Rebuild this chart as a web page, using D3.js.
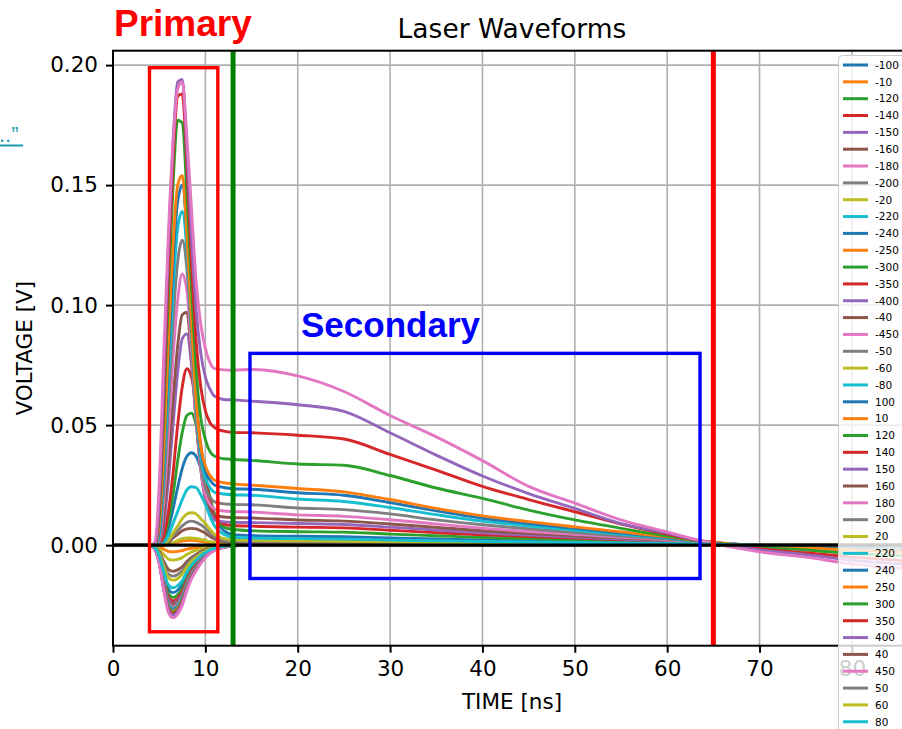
<!DOCTYPE html>
<html><head><meta charset="utf-8">
<script src="https://cdn.jsdelivr.net/npm/d3@7"></script>
<style>body{margin:0;background:#fff;overflow:hidden} svg{display:block}</style>
</head><body><svg id="chart" width="902" height="729"></svg>
<script>
// ---------------- DATA ----------------
const times = [0, 4, 4.5, 5, 5.5, 6, 6.5, 7, 7.5, 8, 8.5, 9, 9.5, 10, 10.5, 11, 12, 13,
               15, 20, 25, 30, 35, 40, 45, 50, 55, 60, 63.5, 70, 75, 80, 86];

const negativeLabels = ["-100","-10","-120","-140","-150","-160","-180","-200","-20","-220",
                        "-240","-250","-300","-350","-400","-40","-450","-50","-60","-80"];
const positiveLabels = ["100","10","120","140","150","160","180","200","20","220",
                        "240","250","300","350","400","40","450","50","60","80"];

const Z15 = [0,0,0,0,0,0,0,0,0,0,0,0,0,0,0];
const negativeTraces = [
  /* -100 */ [0,0,-0.001,-0.005,-0.0124,-0.0184,-0.0198,-0.0188,-0.0164,-0.0124,-0.0092,-0.007,-0.005,-0.0034,-0.0022,-0.0014,-0.0006,-0.0002].concat(Z15),
  /* -10  */ [0,0,-0.0001,-0.0007,-0.0017,-0.0026,-0.0028,-0.0026,-0.0023,-0.0017,-0.0013,-0.001,-0.0007,-0.0005,-0.0003,-0.0002,-0.0001,0].concat(Z15),
  /* -120 */ [0,0,-0.0011,-0.0055,-0.0136,-0.0202,-0.0218,-0.0207,-0.018,-0.0136,-0.0101,-0.0077,-0.0055,-0.0037,-0.0024,-0.0015,-0.0007,-0.0002].concat(Z15),
  /* -140 */ [0,0,-0.0012,-0.0059,-0.0146,-0.0216,-0.0233,-0.0221,-0.0193,-0.0146,-0.0108,-0.0082,-0.0059,-0.004,-0.0026,-0.0016,-0.0007,-0.0002].concat(Z15),
  /* -150 */ [0,0,-0.0012,-0.0061,-0.0152,-0.0225,-0.0243,-0.023,-0.0201,-0.0152,-0.0113,-0.0086,-0.0061,-0.0042,-0.0027,-0.0017,-0.0007,-0.0002].concat(Z15),
  /* -160 */ [0,0,-0.0013,-0.0063,-0.0155,-0.023,-0.0248,-0.0235,-0.0205,-0.0155,-0.0115,-0.0088,-0.0063,-0.0043,-0.0028,-0.0018,-0.0008,-0.0003].concat(Z15),
  /* -180 */ [0,0,-0.0013,-0.0065,-0.0161,-0.0239,-0.0257,-0.0244,-0.0213,-0.0161,-0.012,-0.0091,-0.0065,-0.0044,-0.0029,-0.0018,-0.0008,-0.0003].concat(Z15),
  /* -200 */ [0,0,-0.0013,-0.0066,-0.0164,-0.0244,-0.0262,-0.0249,-0.0217,-0.0164,-0.0122,-0.0093,-0.0066,-0.0045,-0.0029,-0.0019,-0.0008,-0.0003].concat(Z15),
  /* -20  */ [0,0,-0.0003,-0.0016,-0.0039,-0.0058,-0.0062,-0.0059,-0.0052,-0.0039,-0.0029,-0.0022,-0.0016,-0.0011,-0.0007,-0.0004,-0.0002,-0.0001].concat(Z15),
  /* -220 */ [0,0,-0.0014,-0.0068,-0.0167,-0.0248,-0.0267,-0.0254,-0.0221,-0.0167,-0.0124,-0.0095,-0.0068,-0.0046,-0.003,-0.0019,-0.0008,-0.0003].concat(Z15),
  /* -240 */ [0,0,-0.0014,-0.0069,-0.0171,-0.0253,-0.0272,-0.0259,-0.0226,-0.0171,-0.0127,-0.0096,-0.0069,-0.0047,-0.003,-0.0019,-0.0008,-0.0003].concat(Z15),
  /* -250 */ [0,0,-0.0014,-0.007,-0.0174,-0.0258,-0.0277,-0.0263,-0.023,-0.0174,-0.0129,-0.0098,-0.007,-0.0048,-0.0031,-0.002,-0.0008,-0.0003].concat(Z15),
  /* -300 */ [0,0,-0.0014,-0.0071,-0.0177,-0.0262,-0.0282,-0.0268,-0.0234,-0.0177,-0.0131,-0.01,-0.0071,-0.0048,-0.0031,-0.002,-0.0009,-0.0003].concat(Z15),
  /* -350 */ [0,0,-0.0015,-0.0073,-0.018,-0.0267,-0.0287,-0.0273,-0.0238,-0.018,-0.0133,-0.0102,-0.0073,-0.0049,-0.0032,-0.002,-0.0009,-0.0003].concat(Z15),
  /* -400 */ [0,0,-0.0015,-0.0074,-0.0183,-0.0271,-0.0292,-0.0277,-0.0242,-0.0183,-0.0136,-0.0103,-0.0074,-0.005,-0.0032,-0.0021,-0.0009,-0.0003].concat(Z15),
  /* -40  */ [0,0,-0.0006,-0.0028,-0.0068,-0.0101,-0.0109,-0.0103,-0.009,-0.0068,-0.0051,-0.0039,-0.0028,-0.0019,-0.0012,-0.0008,-0.0003,-0.0001].concat(Z15),
  /* -450 */ [0,0,-0.0015,-0.0076,-0.0189,-0.0281,-0.0302,-0.0287,-0.025,-0.0189,-0.014,-0.0107,-0.0076,-0.0052,-0.0034,-0.0021,-0.0009,-0.0003].concat(Z15),
  /* -50  */ [0,0,-0.0007,-0.0033,-0.0081,-0.012,-0.0129,-0.0122,-0.0107,-0.0081,-0.006,-0.0046,-0.0033,-0.0022,-0.0014,-0.0009,-0.0004,-0.0001].concat(Z15),
  /* -60  */ [0,0,-0.0007,-0.0037,-0.0092,-0.0136,-0.0147,-0.0139,-0.0121,-0.0092,-0.0068,-0.0052,-0.0037,-0.0025,-0.0016,-0.001,-0.0004,-0.0001].concat(Z15),
  /* -80  */ [0,0,-0.0009,-0.0045,-0.0112,-0.0166,-0.0178,-0.0169,-0.0148,-0.0112,-0.0083,-0.0063,-0.0045,-0.0031,-0.002,-0.0013,-0.0005,-0.0002].concat(Z15)
];

const positiveTraces = [
  /* 100 */ [0,0,0,0,0.002,0.007,0.015,0.024,0.032,0.037,0.0385,0.037,0.032,0.025,0.018,0.012,0.006,0.0045,
             0.004,0.0037,0.0035,0.003,0.0026,0.0021,0.0018,0.0015,0.0012,0.0009,0.0007,0,-0.0001,-0.0002,-0.0003],
  /* 10  */ [0,0,0,0,0,0.0003,0.0008,0.0013,0.0017,0.0019,0.002,0.0019,0.0016,0.0013,0.0009,0.0006,0.0003,0.0002,
             0.0001,0.0001,0.0001,0.0001,0.0001,0.0001,0,0,0,0,0,0,0,0,0],
  /* 120 */ [0,0,0,0,0.003,0.01,0.021,0.035,0.047,0.054,0.055,0.05,0.04,0.029,0.02,0.013,0.0075,0.0065,
             0.006,0.0056,0.0054,0.0046,0.0039,0.0032,0.0027,0.0022,0.0017,0.0012,0.0009,0,-0.0002,-0.0003,-0.0004],
  /* 140 */ [0,0,0,0,0.004,0.014,0.03,0.05,0.066,0.0735,0.07,0.058,0.042,0.028,0.018,0.012,0.0088,0.0082,
             0.0079,0.0075,0.0072,0.0062,0.0052,0.0043,0.0036,0.0029,0.0022,0.0016,0.0011,-0.0001,-0.0003,-0.0005,-0.0006],
  /* 150 */ [0,0,0,0.0005,0.009,0.027,0.05,0.072,0.086,0.088,0.075,0.052,0.032,0.019,0.013,0.0105,0.0097,0.0095,
             0.0094,0.009,0.0086,0.0075,0.0063,0.0051,0.0042,0.0034,0.0025,0.0018,0.0012,-0.0001,-0.0004,-0.0006,-0.0008],
  /* 160 */ [0,0,0,0.001,0.012,0.034,0.06,0.083,0.096,0.097,0.078,0.052,0.032,0.02,0.015,0.0125,0.0117,0.0115,
             0.0113,0.0105,0.01,0.0088,0.0074,0.006,0.0049,0.0039,0.0029,0.002,0.0013,-0.0002,-0.0005,-0.0008,-0.001],
  /* 180 */ [0,0,0,0.002,0.018,0.046,0.078,0.102,0.113,0.106,0.081,0.052,0.032,0.021,0.017,0.015,0.0142,0.014,
             0.0138,0.0126,0.012,0.0106,0.0088,0.0071,0.0057,0.0045,0.0033,0.0022,0.0014,-0.0002,-0.0006,-0.001,-0.0013],
  /* 200 */ [0,0,0,0.003,0.024,0.058,0.093,0.118,0.127,0.115,0.086,0.054,0.034,0.024,0.02,0.018,0.0172,0.017,
             0.0168,0.0155,0.0148,0.013,0.0105,0.0085,0.0068,0.0052,0.0038,0.0025,0.0015,-0.0003,-0.0008,-0.0012,-0.0016],
  /* 20  */ [0,0,0,0,0,0.0005,0.001,0.002,0.0027,0.003,0.003,0.0028,0.0024,0.002,0.0014,0.001,0.0006,0.0005,
             0.0004,0.0004,0.0003,0.0003,0.0003,0.0002,0.0002,0.0002,0.0001,0.0001,0.0001,0,0,0,0],
  /* 220 */ [0,0,0,0.004,0.03,0.068,0.106,0.132,0.139,0.123,0.09,0.057,0.037,0.028,0.024,0.022,0.0213,0.021,
             0.0208,0.0192,0.0182,0.0157,0.0127,0.01,0.008,0.0062,0.0045,0.0029,0.0016,-0.0004,-0.0009,-0.0015,-0.002],
  /* 240 */ [0,0,0,0.006,0.035,0.078,0.118,0.143,0.15,0.13,0.094,0.06,0.04,0.031,0.027,0.025,0.024,0.0235,
             0.0233,0.0218,0.0208,0.0177,0.0143,0.0112,0.009,0.007,0.005,0.0032,0.0017,-0.0005,-0.001,-0.0018,-0.0025],
  /* 250 */ [0,0,0,0.008,0.04,0.085,0.125,0.15,0.154,0.13,0.093,0.06,0.041,0.033,0.029,0.027,0.026,0.0255,
             0.025,0.0236,0.0222,0.019,0.0153,0.0122,0.0098,0.0076,0.0055,0.0035,0.0018,-0.0005,-0.0012,-0.002,-0.0028],
  /* 300 */ [0,0,0,0.012,0.055,0.105,0.15,0.177,0.176,0.146,0.107,0.073,0.053,0.044,0.039,0.037,0.036,0.0357,
             0.0353,0.0338,0.0333,0.029,0.0238,0.0195,0.0146,0.0105,0.007,0.0038,0.0018,-0.001,-0.002,-0.0035,-0.0045],
  /* 350 */ [0,0,0,0.015,0.062,0.115,0.16,0.187,0.188,0.158,0.118,0.085,0.066,0.056,0.051,0.049,0.0475,0.047,
             0.0468,0.0458,0.0442,0.0378,0.0313,0.0245,0.019,0.0139,0.0088,0.0046,0.0018,-0.0015,-0.0032,-0.005,-0.0065],
  /* 400 */ [0,0,0,0.018,0.07,0.125,0.168,0.193,0.194,0.165,0.128,0.098,0.08,0.07,0.065,0.062,0.0607,0.0605,
             0.06,0.0585,0.0557,0.0468,0.0375,0.0288,0.0215,0.0153,0.009,0.005,0.0019,-0.002,-0.004,-0.0063,-0.008],
  /* 40  */ [0,0,0,0,0,0.001,0.003,0.0045,0.006,0.0068,0.007,0.0068,0.006,0.005,0.0036,0.0025,0.0014,0.0011,
             0.001,0.0009,0.0008,0.0007,0.0006,0.0005,0.0005,0.0004,0.0003,0.0003,0.0002,0,0,0,0],
  /* 450 */ [0,0,0.001,0.025,0.08,0.13,0.168,0.19,0.193,0.17,0.14,0.11,0.092,0.082,0.076,0.0735,0.073,0.0729,
             0.0732,0.0705,0.064,0.054,0.0451,0.0352,0.0245,0.0175,0.0105,0.0055,0.002,-0.0028,-0.005,-0.0078,-0.0098],
  /* 50  */ [0,0,0,0,0,0.0015,0.004,0.006,0.008,0.0095,0.01,0.0095,0.0085,0.007,0.005,0.0035,0.002,0.0016,
             0.0015,0.0014,0.0012,0.0011,0.0009,0.0008,0.0007,0.0006,0.0005,0.0004,0.0003,0,0,0,0],
  /* 60  */ [0,0,0,0,0,0.002,0.005,0.008,0.011,0.013,0.0135,0.013,0.011,0.009,0.0065,0.0045,0.0028,0.0022,
             0.002,0.0018,0.0016,0.0014,0.0012,0.001,0.0009,0.0008,0.0006,0.0005,0.0004,0,0,0,-0.0001],
  /* 80  */ [0,0,0,0,0.001,0.004,0.009,0.014,0.019,0.023,0.0243,0.024,0.021,0.017,0.012,0.008,0.0045,0.0033,
             0.003,0.0027,0.0025,0.0021,0.0018,0.0015,0.0013,0.0011,0.0009,0.0007,0.0005,0,0,-0.0001,-0.0002]
];

const xTicks = [0, 10, 20, 30, 40, 50, 60, 70, 80];
const yTicks = [0.00, 0.05, 0.10, 0.15, 0.20];
const markerTimes = [13, 65];               // green, red vertical markers
const primaryBox = [3.95, 11.35, -0.0361, 0.1989];   // t0, t1, v0, v1
const secondaryBox = [14.83, 63.56, -0.0139, 0.0799];

// ---------------- DRAW ----------------
const labels = negativeLabels.concat(positiveLabels);
const traces = negativeTraces.concat(positiveTraces);
const palette = d3.schemeCategory10;

const L = 113, T = 50.7, R = 911, B = 645.7;
const x = d3.scaleLinear().domain([0, 86.4]).range([L, R]);
const y = d3.scaleLinear().domain([-0.0419, 0.206]).range([B, T]);

const svg = d3.select("#chart");
const FONT = "DejaVu Sans, sans-serif";
const SANS = "Liberation Sans, Arial, sans-serif";

svg.append("rect").attr("width", 902).attr("height", 729).attr("fill", "#fff");

svg.append("defs").append("clipPath").attr("id", "plotclip")
  .append("rect").attr("x", L).attr("y", T).attr("width", R - L).attr("height", B - T);

// grid
const grid = svg.append("g");
grid.selectAll("line.gx").data(xTicks).join("line")
  .attr("class", "gx")
  .attr("x1", d => x(d)).attr("x2", d => x(d)).attr("y1", T).attr("y2", B)
  .attr("stroke", "#b0b0b0").attr("stroke-width", 1.6);
grid.selectAll("line.gy").data(yTicks).join("line")
  .attr("class", "gy")
  .attr("x1", L).attr("x2", R).attr("y1", d => y(d)).attr("y2", d => y(d))
  .attr("stroke", "#b0b0b0").attr("stroke-width", 1.6);

// curves
const plot = svg.append("g").attr("clip-path", "url(#plotclip)");
const line = d3.line()
  .x((d, j) => x(times[j]))
  .y(d => y(d))
  .curve(d3.curveMonotoneX);

plot.selectAll("path.trace").data(traces).join("path")
  .attr("class", "trace")
  .attr("d", d => line(d))
  .attr("fill", "none")
  .attr("stroke", (d, i) => palette[i % 10])
  .attr("stroke-width", 2.9)
  .attr("stroke-linejoin", "round")
  .attr("stroke-linecap", "round");

// zero line
plot.append("line")
  .attr("x1", L).attr("x2", R).attr("y1", y(0)).attr("y2", y(0))
  .attr("stroke", "#000").attr("stroke-width", 3.2);

// markers
plot.selectAll("line.marker").data(markerTimes).join("line")
  .attr("class", "marker")
  .attr("x1", d => x(d)).attr("x2", d => x(d)).attr("y1", T).attr("y2", B)
  .attr("stroke", (d, i) => i === 0 ? "#008000" : "#ff0000")
  .attr("stroke-width", 5);

// boxes
function box(b, color) {
  plot.append("rect")
    .attr("x", x(b[0])).attr("y", y(b[3]))
    .attr("width", x(b[1]) - x(b[0])).attr("height", y(b[2]) - y(b[3]))
    .attr("fill", "none").attr("stroke", color).attr("stroke-width", 3.4);
}
box(primaryBox, "#ff0000");
box(secondaryBox, "#0000ff");

// axes
const xAxis = svg.append("g").attr("transform", `translate(0,${B})`)
  .call(d3.axisBottom(x).tickValues(xTicks).tickFormat(d3.format("d")).tickSize(7).tickSizeOuter(0).tickPadding(8));
const yAxis = svg.append("g").attr("transform", `translate(${L},0)`)
  .call(d3.axisLeft(y).tickValues(yTicks).tickFormat(d3.format(".2f")).tickSize(7).tickSizeOuter(0).tickPadding(8));
[xAxis, yAxis].forEach(a => {
  a.select(".domain").remove();
  a.selectAll(".tick line").attr("stroke", "#000").attr("stroke-width", 2);
  a.selectAll(".tick text").attr("fill", "#000").attr("font-family", FONT).attr("font-size", 21.5);
});

// spines
svg.append("rect").attr("x", L).attr("y", T).attr("width", R - L).attr("height", B - T)
  .attr("fill", "none").attr("stroke", "#000").attr("stroke-width", 2);

// titles
svg.append("text").attr("x", (L + R) / 2).attr("y", 37.5).attr("text-anchor", "middle")
  .attr("font-family", FONT).attr("font-size", 26.5).text("Laser Waveforms");
svg.append("text").attr("x", (L + R) / 2).attr("y", 709).attr("text-anchor", "middle")
  .attr("font-family", FONT).attr("font-size", 21.5).text("TIME [ns]");
svg.append("text").attr("transform", `translate(32,${(T + B) / 2}) rotate(-90)`)
  .attr("text-anchor", "middle").attr("font-family", FONT).attr("font-size", 21.5).text("VOLTAGE [V]");

// annotations
svg.append("text").attr("x", 114).attr("y", 36)
  .attr("font-family", SANS).attr("font-weight", "bold")
  .attr("font-size", 37).attr("fill", "#ff0000").text("Primary");
svg.append("text").attr("x", 301).attr("y", 337)
  .attr("font-family", SANS).attr("font-weight", "bold")
  .attr("font-size", 35).attr("fill", "#0000ff").text("Secondary");

// cropped link fragment at far left
svg.append("text").attr("x", -1).attr("y", 142)
  .attr("font-family", SANS).attr("font-size", 22)
  .attr("fill", "#1a9bab").text("..\u201D");
svg.append("line").attr("x1", 0).attr("x2", 23).attr("y1", 145.5).attr("y2", 145.5)
  .attr("stroke", "#1a9bab").attr("stroke-width", 2);

// legend
const lg = svg.append("g");
lg.append("rect").attr("x", 838.5).attr("y", 55.5).attr("width", 120).attr("height", 720)
  .attr("rx", 4).attr("fill", "#fff").attr("fill-opacity", 0.8)
  .attr("stroke", "#cccccc").attr("stroke-width", 1);
const step = 16.84;
const entries = lg.selectAll("g.entry").data(labels).join("g")
  .attr("class", "entry")
  .attr("transform", (d, i) => `translate(0,${65 + i * step})`);
entries.append("line").attr("x1", 843).attr("x2", 868).attr("y1", 0).attr("y2", 0)
  .attr("stroke", (d, i) => palette[i % 10]).attr("stroke-width", 3);
entries.append("text").attr("x", 875).attr("y", 3.8)
  .attr("font-family", FONT).attr("font-size", 10.5).attr("fill", "#000").text(d => d);
</script>
</body></html>
